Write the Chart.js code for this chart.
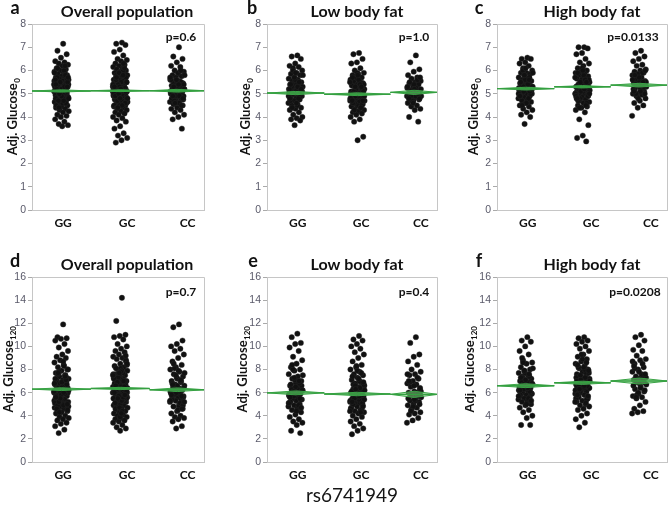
<!DOCTYPE html>
<html><head><meta charset="utf-8">
<script src="https://cdn.jsdelivr.net/npm/chart.js@4.4.0/dist/chart.umd.min.js"></script>
<style>
html,body{margin:0;padding:0;background:#fff;}
#wrap{position:relative;width:671px;height:512px;overflow:hidden;background:#fff;}
#wrap canvas{position:absolute;}
</style></head>
<body><div id="wrap"></div>
<script>
// ---------------- DATA ----------------
const categories = ['GG', 'GC', 'CC'];
const glu0Ticks = [0, 1, 2, 3, 4, 5, 6, 7, 8];
const glu120Ticks = [0, 2, 4, 6, 8, 10, 12, 14, 16];
const panelTitles = ['Overall population', 'Low body fat', 'High body fat', 'Overall population', 'Low body fat', 'High body fat'];
const panelLetters = ['a', 'b', 'c', 'd', 'e', 'f'];
const pValues = ['p=0.6', 'p=1.0', 'p=0.0133', 'p=0.7', 'p=0.4', 'p=0.0208'];
const snpName = 'rs6741949';

// group size shares (width of each genotype section)
const allShares = [0.34, 0.34, 0.32];
const lowShares = [0.335, 0.387, 0.278];
const highShares = [0.335, 0.33, 0.335];

// Adj. Glucose0 – overall
const glu0AllGG = [7.15,6.85,6.7,6.55,6.4,6.35,6.3,6.25,6.2,6.1,6.05,6.0,5.95,5.9,5.85,5.8,5.75,5.7,5.7,5.65,5.6,5.55,5.5,5.5,5.45,5.4,5.35,5.3,5.3,5.25,5.2,5.2,5.15,5.1,5.1,5.05,5.0,5.0,4.95,4.9,4.9,4.85,4.8,4.75,4.7,4.7,4.65,4.6,4.55,4.5,4.45,4.4,4.35,4.3,4.25,4.2,4.1,4.05,4.0,3.9,3.8,3.7,3.65,3.6,5.35,5.05,4.95,5.55,5.25,4.85,
  5.6,5.2,4.8,5.9,5.0,5.4,4.6,5.7,5.1,4.9,5.3,6.0,4.7,5.5,5.2,4.5,5.8,5.0,5.4,4.8,6.1,5.1,4.9,5.6,5.3,4.4,5.7,5.0,5.2,4.6,5.5,5.9,4.7,5.1,5.3,4.9,5.4,6.2,5.0,4.8];
const glu0AllGC = [7.2,7.15,7.1,6.9,6.8,6.65,6.5,6.45,6.4,6.3,6.25,6.2,6.15,6.1,6.05,6.0,5.95,5.9,5.85,5.8,5.8,5.75,5.7,5.65,5.6,5.6,5.55,5.5,5.5,5.45,5.4,5.4,5.35,5.3,5.3,5.25,5.2,5.2,5.15,5.15,5.1,5.1,5.05,5.0,5.0,4.95,4.95,4.9,4.85,4.85,4.8,4.75,4.7,4.7,4.65,4.6,4.55,4.5,4.5,4.45,4.4,4.35,4.3,4.25,4.2,4.15,4.1,4.0,3.95,3.85,3.8,3.6,3.5,3.3,3.2,3.1,3.0,2.9,5.25,5.45,4.9,5.05,5.65,4.6,5.35,
  5.3,4.9,5.6,5.1,4.7,5.8,5.0,5.4,4.5,6.0,5.2,4.8,5.5,5.1,4.6,5.9,5.3,5.0,4.4,5.7,5.2,4.9,6.2,5.4,4.8,5.1,5.6,4.6,5.3,5.0,5.8,4.7,5.5,5.2,4.9,6.1,5.0,5.4,4.5,5.7,5.1,4.8,5.3,6.3,4.4];
const glu0AllCC = [7.0,6.6,6.5,6.35,6.2,6.15,6.0,5.95,5.85,5.8,5.75,5.7,5.6,5.55,5.5,5.45,5.4,5.35,5.3,5.25,5.2,5.2,5.15,5.1,5.05,5.0,5.0,4.95,4.9,4.85,4.8,4.75,4.7,4.65,4.6,4.55,4.5,4.4,4.35,4.3,4.2,4.1,4.0,3.9,3.5,5.3,5.1,4.9,5.45,4.75,
  5.2,4.8,5.5,5.0,5.8,4.6,5.3,5.1,4.9,5.6,5.0,4.7,5.4,5.9,5.2,4.5,5.1,5.7,4.9,5.3,4.8,5.5,5.0,6.0,4.6,5.2,5.4,4.9,5.1,5.6];
const glu0AllMeans = [5.12, 5.13, 5.13];
const glu0AllCI = [0.05, 0.04, 0.06];

// Adj. Glucose0 – low body fat
const glu0LowGG = [6.65,6.6,6.5,6.3,6.2,6.15,6.1,6.0,5.9,5.85,5.8,5.7,5.65,5.6,5.55,5.5,5.45,5.4,5.35,5.3,5.3,5.25,5.2,5.15,5.1,5.05,5.0,4.95,4.9,4.85,4.8,4.75,4.7,4.6,4.55,4.5,4.4,4.35,4.3,4.2,4.1,4.0,3.95,3.9,3.85,3.65,5.2,4.95,5.4,5.05,
  5.1,4.7,5.5,5.0,5.8,4.5,5.3,4.9,5.6,5.2,4.8,6.0,5.1,4.6,5.4,5.0,5.7,4.9,5.3,4.4,5.2,5.9,4.8,5.5,5.0];
const glu0LowGC = [6.75,6.7,6.5,6.35,6.3,6.1,6.0,5.9,5.85,5.8,5.7,5.65,5.6,5.55,5.5,5.45,5.4,5.35,5.3,5.25,5.2,5.15,5.1,5.1,5.05,5.0,5.0,4.95,4.9,4.85,4.8,4.8,4.75,4.7,4.65,4.6,4.55,4.5,4.45,4.4,4.35,4.3,4.25,4.2,4.15,4.1,4.0,3.9,3.8,3.15,3.0,5.0,4.9,5.2,4.7,5.3,4.6,5.45,4.85,5.1,
  5.0,4.6,5.4,4.9,5.7,4.5,5.2,4.8,5.5,5.1,4.7,5.9,5.0,4.4,5.3,4.9,5.6,4.6,5.2,5.0,4.8,5.4,4.3,5.1,5.8,4.7,5.3,4.9,5.5,5.0];
const glu0LowCC = [6.65,6.35,6.05,5.95,5.8,5.7,5.65,5.55,5.5,5.45,5.4,5.3,5.25,5.2,5.15,5.1,5.05,5.0,5.0,4.95,4.9,4.85,4.8,4.75,4.7,4.6,4.5,4.45,4.35,4.3,4.0,3.8,5.1,4.9,5.25,
  5.1,4.8,5.4,5.0,5.6,4.7,5.2,4.9,5.5,5.0,4.6,5.3,5.1,4.9,5.7,5.2,4.8,5.0];
const glu0LowMeans = [5.03, 4.98, 5.06];
const glu0LowCI = [0.07, 0.06, 0.09];

// Adj. Glucose0 – high body fat
const glu0HighGG = [6.55,6.5,6.5,6.35,6.3,6.2,6.1,6.0,5.9,5.9,5.85,5.8,5.7,5.65,5.6,5.55,5.5,5.45,5.4,5.35,5.3,5.3,5.25,5.2,5.2,5.15,5.1,5.05,5.0,5.0,4.95,4.9,4.85,4.8,4.75,4.7,4.65,4.6,4.5,4.45,4.35,4.3,4.2,4.1,4.0,3.7,5.25,5.45,5.05,5.15,
  5.3,4.9,5.7,5.1,5.9,4.7,5.4,5.0,5.6,5.2,4.8,6.0,5.3,4.6,5.5,5.1,5.8,5.0,5.4,4.5,5.2,6.1,4.9,5.6,5.3];
const glu0HighGC = [7.0,7.0,6.95,6.75,6.7,6.5,6.35,6.3,6.2,6.1,6.0,5.95,5.9,5.85,5.8,5.75,5.7,5.65,5.6,5.55,5.5,5.45,5.4,5.4,5.35,5.3,5.3,5.25,5.2,5.2,5.15,5.1,5.05,5.0,5.0,4.95,4.9,4.85,4.8,4.75,4.7,4.65,4.6,4.5,4.45,4.4,4.3,4.2,3.9,3.65,3.2,3.1,2.95,5.35,5.15,5.5,5.25,4.95,5.6,5.05,
  5.3,4.8,5.6,5.1,5.9,4.6,5.4,5.0,5.7,5.2,4.9,6.1,5.3,4.5,5.5,5.0,5.8,4.7,5.4,5.2,4.9,5.6,4.4,5.3,6.0,4.8,5.5,5.1,5.7,5.2];
const glu0HighCC = [6.85,6.75,6.6,6.5,6.4,6.25,6.2,6.05,6.0,5.95,5.9,5.85,5.8,5.7,5.6,5.55,5.5,5.45,5.4,5.35,5.3,5.25,5.2,5.1,5.0,5.0,4.95,4.9,4.8,4.7,4.6,4.5,4.4,4.05,5.15,
  5.4,5.0,5.7,5.2,5.9,4.9,5.5,5.1,5.8,5.3,4.8,5.6,5.4,5.0,6.0,5.3,5.1,5.5];
const glu0HighMeans = [5.22, 5.30, 5.37];
const glu0HighCI = [0.06, 0.05, 0.08];

// Adj. Glucose120 – overall
const glu120AllGG = [11.9,10.8,10.7,10.65,10.5,10.2,9.9,9.6,9.3,9.1,9.0,8.8,8.6,8.4,8.2,8.0,7.9,7.7,7.5,7.4,7.2,7.1,7.0,6.9,6.8,6.7,6.6,6.5,6.4,6.3,6.3,6.2,6.1,6.0,5.9,5.8,5.7,5.6,5.5,5.4,5.3,5.2,5.1,5.0,4.9,4.8,4.7,4.6,4.5,4.4,4.3,4.2,4.0,3.9,3.8,3.7,3.6,3.4,3.3,3.1,2.8,2.5,6.0,6.5,5.8,7.3,6.8,5.3,4.9,7.6,
  6.2,5.4,7.0,5.9,7.8,4.8,6.6,5.6,7.3,6.0,5.1,8.3,6.4,4.5,6.9,5.7,7.5,5.3,6.1,8.7,4.9,6.7,5.8,7.2,6.3,5.2,8.0,6.5,4.6,7.1,5.5,6.8,6.0,7.7,5.0,6.4,5.6,7.4,4.3,6.2];
const glu120AllGC = [14.2,12.2,11.0,10.9,10.8,10.6,10.2,10.0,9.8,9.6,9.5,9.3,9.1,9.0,8.9,8.7,8.5,8.3,8.2,8.0,7.9,7.8,7.6,7.5,7.4,7.3,7.2,7.1,7.0,6.9,6.8,6.7,6.6,6.5,6.5,6.4,6.3,6.3,6.2,6.1,6.0,6.0,5.9,5.8,5.7,5.6,5.5,5.4,5.3,5.2,5.1,5.0,4.9,4.8,4.7,4.6,4.5,4.4,4.3,4.2,4.1,4.0,3.9,3.8,3.7,3.6,3.5,3.4,3.2,3.0,2.9,2.7,6.4,5.9,6.8,5.6,7.1,6.2,5.3,6.6,4.9,7.7,6.0,5.5,8.1,
  6.3,5.5,7.1,6.0,7.9,4.9,6.7,5.7,7.4,6.1,5.2,8.4,6.5,4.6,7.0,5.8,7.6,5.4,6.2,8.8,5.0,6.8,5.9,7.3,6.4,5.3,8.1,6.6,4.7,7.2,5.6,6.9,6.1,7.8,5.1,6.5,5.7,7.5,4.4,6.3,9.2,3.9,6.0,7.0,5.5,8.5,4.2,6.6,5.8,7.7];
const glu120AllCC = [11.9,11.65,10.5,10.2,10.0,9.8,9.6,9.3,9.0,8.7,8.4,8.2,8.0,7.8,7.6,7.4,7.2,7.0,6.9,6.7,6.6,6.4,6.3,6.2,6.1,6.0,5.9,5.8,5.7,5.6,5.5,5.4,5.3,5.2,5.0,4.8,4.6,4.4,4.2,4.0,3.9,3.8,3.7,3.5,3.1,2.9,6.1,5.9,6.5,5.6,
  6.2,5.4,7.0,5.9,7.7,4.8,6.5,5.6,7.3,6.0,5.1,8.1,6.4,4.5,6.8,5.7,7.5,5.3,6.1,8.5,4.9,6.6,5.8,7.1,6.3,5.2,7.9,6.7,4.6,6.0];
const glu120AllMeans = [6.30, 6.36, 6.25];
const glu120AllCI = [0.12, 0.10, 0.16];

// Adj. Glucose120 – low body fat
const glu120LowGG = [11.1,10.8,10.3,10.2,9.9,9.6,9.1,8.8,8.5,8.2,8.0,7.9,7.6,7.4,7.2,7.0,6.8,6.6,6.5,6.3,6.2,6.1,6.0,5.9,5.8,5.7,5.6,5.5,5.4,5.3,5.2,5.0,4.9,4.8,4.6,4.5,4.3,4.1,3.9,3.7,3.5,3.4,3.2,2.7,2.5,6.0,5.8,6.4,5.5,6.6,
  6.0,5.2,6.8,5.7,7.5,4.6,6.3,5.4,7.1,5.9,4.9,8.0,6.2,4.4,6.7,5.5,7.3,5.1,5.9,8.4,4.7,6.5,5.6,7.0,6.1];
const glu120LowGC = [10.9,10.6,10.5,10.2,10.0,9.8,9.5,9.3,9.0,8.7,8.4,8.2,8.0,7.8,7.6,7.5,7.3,7.1,6.9,6.8,6.6,6.5,6.3,6.2,6.1,6.0,5.9,5.8,5.7,5.6,5.5,5.4,5.3,5.2,5.1,5.0,4.9,4.8,4.6,4.5,4.4,4.3,4.2,4.0,3.9,3.7,3.5,3.3,3.1,2.9,2.7,2.4,5.9,5.6,6.2,5.4,6.7,5.1,6.0,4.7,
  5.9,5.1,6.7,5.6,7.4,4.5,6.2,5.3,7.0,5.8,4.8,7.9,6.1,4.3,6.6,5.4,7.2,5.0,5.8,8.3,4.6,6.4,5.5,6.9,6.0,5.2,7.7,6.3,4.4,5.7];
const glu120LowCC = [10.8,10.3,9.3,9.1,8.7,8.4,8.0,7.8,7.6,7.5,7.2,7.0,6.8,6.7,6.5,6.3,6.1,6.0,5.9,5.8,5.6,5.5,5.3,5.2,5.0,4.9,4.7,4.5,4.3,4.2,4.1,3.8,3.6,3.4,5.7,
  5.8,5.0,6.6,5.5,7.3,4.6,6.1,5.3,6.9,5.7,4.8,7.6,6.0,4.4,6.4,5.4,7.0,5.9];
const glu120LowMeans = [5.98, 5.88, 5.85];
const glu120LowCI = [0.17, 0.15, 0.27];

// Adj. Glucose120 – high body fat
const glu120HighGG = [10.8,10.5,10.4,10.0,9.6,9.3,8.8,8.6,8.5,8.2,8.0,7.9,7.7,7.5,7.4,7.2,7.1,7.0,6.9,6.8,6.7,6.6,6.5,6.4,6.3,6.2,6.1,6.0,5.9,5.8,5.7,5.6,5.5,5.4,5.3,5.2,5.0,4.9,4.7,4.5,4.3,4.0,3.8,3.2,3.2,6.5,6.2,6.8,7.3,5.9,
  6.6,5.8,7.4,6.3,8.1,5.2,6.9,6.0,7.7,6.5,5.5,8.6,6.8,5.0,7.3,6.1,7.9,5.7,6.4,9.0,5.3,7.1,6.2,7.6,6.7];
const glu120HighGC = [10.8,10.7,10.5,10.4,10.2,10.0,9.8,9.6,9.3,9.1,8.9,8.7,8.5,8.3,8.1,8.0,7.8,7.6,7.5,7.4,7.2,7.1,7.0,6.9,6.8,6.7,6.6,6.5,6.4,6.3,6.2,6.1,6.0,5.9,5.8,5.6,5.5,5.3,5.2,5.0,4.9,4.8,4.6,4.5,4.2,4.0,3.7,3.4,3.0,6.9,7.2,6.5,7.7,6.1,7.0,6.4,8.2,5.7,6.7,7.3,
  6.9,6.0,7.7,6.5,8.4,5.4,7.2,6.2,8.0,6.7,5.7,8.9,7.0,5.1,7.5,6.4,8.2,5.9,6.6,9.3,5.5,7.3,6.3,7.9,6.8,5.8,8.6,7.1,5.2,6.6];
const glu120HighCC = [11.0,10.8,10.5,10.1,9.7,9.6,9.2,8.9,8.8,8.5,8.2,8.0,7.8,7.6,7.4,7.3,7.2,7.1,7.0,6.9,6.7,6.5,6.3,6.1,5.9,5.7,5.6,5.5,5.2,4.9,4.6,4.4,4.3,4.2,7.0,
  7.0,6.2,7.8,6.6,8.5,5.8,7.3,6.4,8.1,6.9,6.0,8.7,7.2,5.6,7.6,6.8,8.3,7.1];
const glu120HighMeans = [6.60, 6.85, 7.00];
const glu120HighCI = [0.17, 0.14, 0.26];

// ---------------- LAYOUT ----------------
const AXW = 32;          // y-axis box width
const XAH = 24;          // x-axis box height
const JITTER = 0.043;    // half-width of strip jitter (x units)
const LABEL_POS = [0.18, 0.55, 0.90];

const panels = [
  {groups:[glu0AllGG,glu0AllGC,glu0AllCC], means:glu0AllMeans, ci:glu0AllCI, shares:allShares, ticks:glu0Ticks, sub:'0',
   left:32, right:207, top:24, bottom:210, cTop:0, cH:234, letter:[15,8], title:[127,12], p:[181,37], yTitleX:12},
  {groups:[glu0LowGG,glu0LowGC,glu0LowCC], means:glu0LowMeans, ci:glu0LowCI, shares:lowShares, ticks:glu0Ticks, sub:'0',
   left:267, right:440, top:24, bottom:210, cTop:0, cH:234, letter:[252,8], title:[357,12], p:[414,37], yTitleX:245},
  {groups:[glu0HighGG,glu0HighGC,glu0HighCC], means:glu0HighMeans, ci:glu0HighCI, shares:highShares, ticks:glu0Ticks, sub:'0',
   left:497, right:670, top:24, bottom:210, cTop:0, cH:234, letter:[479,8], title:[592,12], p:[633,37], yTitleX:473},
  {groups:[glu120AllGG,glu120AllGC,glu120AllCC], means:glu120AllMeans, ci:glu120AllCI, shares:allShares, ticks:glu120Ticks, sub:'120',
   left:32, right:207, top:277, bottom:462, cTop:250, cH:262, letter:[15,261], title:[127,265], p:[181,292], yTitleX:8},
  {groups:[glu120LowGG,glu120LowGC,glu120LowCC], means:glu120LowMeans, ci:glu120LowCI, shares:lowShares, ticks:glu120Ticks, sub:'120',
   left:267, right:440, top:277, bottom:462, cTop:250, cH:262, letter:[253,261], title:[357,265], p:[414,292], yTitleX:242, xlabel:[352,496]},
  {groups:[glu120HighGG,glu120HighGC,glu120HighCC], means:glu120HighMeans, ci:glu120HighCI, shares:highShares, ticks:glu120Ticks, sub:'120',
   left:497, right:670, top:277, bottom:462, cTop:250, cH:262, letter:[479,261], title:[592,265], p:[635,292], yTitleX:469}
];

const FONT = 'Lato, "Open Sans", "Liberation Sans", sans-serif';

const panelTextPlugin = {
  id: 'panelText',
  afterDraw(chart) {
    const o = chart.options.plugins.panelText;
    const ctx = chart.ctx, ca = chart.chartArea;
    const ox = o.cLeft, oy = o.cTop;
    ctx.save();
    ctx.strokeStyle = '#c6c6c6';
    ctx.lineWidth = 1;
    ctx.beginPath();
    ctx.moveTo(ca.left, Math.round(ca.top) + 0.5);
    ctx.lineTo(Math.round(ca.right) - 0.5, Math.round(ca.top) + 0.5);
    ctx.lineTo(Math.round(ca.right) - 0.5, ca.bottom);
    ctx.stroke();
    ctx.fillStyle = '#111';
    ctx.textBaseline = 'middle';
    ctx.textAlign = 'center';
    ctx.font = 'bold 18px ' + FONT;
    ctx.fillText(o.letter, o.letterPos[0] - ox, o.letterPos[1] - oy);
    ctx.font = 'bold 16px ' + FONT;
    ctx.fillText(o.title, o.titlePos[0] - ox, o.titlePos[1] - oy);
    ctx.font = 'bold 12px ' + FONT;
    ctx.fillText(o.p, o.pPos[0] - ox, o.pPos[1] - oy);
    const main = 'Adj. Glucose';
    ctx.font = 'bold 13px ' + FONT;
    const w1 = ctx.measureText(main).width;
    ctx.font = 'bold 8px ' + FONT;
    const w2 = ctx.measureText(o.sub).width;
    const cy = (ca.top + ca.bottom) / 2;
    ctx.translate(o.yTitleX - ox, cy);
    ctx.rotate(-Math.PI / 2);
    ctx.textAlign = 'left';
    ctx.textBaseline = 'alphabetic';
    ctx.font = 'bold 13px ' + FONT;
    const start = -(w1 + w2) / 2;
    ctx.fillText(main, start, 4.5);
    ctx.font = 'bold 8px ' + FONT;
    ctx.fillText(o.sub, start + w1 + 0.5, 7.5);
    ctx.setTransform(1, 0, 0, 1, 0, 0);
    if (o.xlabel) {
      ctx.textAlign = 'center';
      ctx.textBaseline = 'middle';
      ctx.font = '19px ' + FONT;
      ctx.fillStyle = '#151515';
      ctx.fillText(snpName, o.xlabel[0] - ox, o.xlabel[1] - oy);
    }
    ctx.restore();
  }
};

function jitterPoints(values, center) {
  return values.map((v, i) => ({ x: center + ((((i + 1) * 0.6180339887) % 1) - 0.5) * 2 * JITTER, y: v }));
}

const wrap = document.getElementById('wrap');
panels.forEach((pn, idx) => {
  const cLeft = pn.left - AXW;
  const cW = pn.right - cLeft + 1;
  const canvas = document.createElement('canvas');
  canvas.width = cW; canvas.height = pn.cH;
  canvas.style.left = cLeft + 'px'; canvas.style.top = pn.cTop + 'px';
  canvas.style.width = cW + 'px'; canvas.style.height = pn.cH + 'px';
  wrap.appendChild(canvas);

  const edges = [0];
  pn.shares.forEach((s, i) => edges.push(edges[i] + s));
  const datasets = [];
  pn.groups.forEach((vals, g) => {
    const x0 = edges[g], x1 = Math.min(edges[g + 1], 1), xc = (x0 + x1) / 2;
    const m = pn.means[g], c = pn.ci[g];
    datasets.push({
      type: 'line', order: 1,
      data: [{x:x0,y:m},{x:xc,y:m+c},{x:x1,y:m},{x:xc,y:m-c},{x:x0,y:m}],
      borderColor: '#3aa346', borderWidth: 1, backgroundColor: 'rgba(120,205,120,0.55)',
      fill: 'shape', pointRadius: 0, tension: 0
    });
    datasets.push({
      type: 'line', order: 0,
      data: [{x:x0,y:m},{x:x1,y:m}],
      borderColor: '#34a040', borderWidth: 1.4, fill: false, pointRadius: 0
    });
    datasets.push({
      type: 'scatter', order: 2,
      data: jitterPoints(vals, xc),
      pointRadius: 2.7, pointHoverRadius: 2.7,
      backgroundColor: '#111', borderColor: '#2a2a2a', borderWidth: 0.4
    });
  });

  new Chart(canvas, {
    type: 'scatter',
    data: { datasets },
    plugins: [panelTextPlugin],
    options: {
      responsive: false, animation: false, devicePixelRatio: 1,
      layout: { padding: { left: 0, right: 1, top: pn.top - pn.cTop, bottom: pn.cH - (pn.bottom - pn.cTop) - XAH } },
      plugins: {
        legend: { display: false }, tooltip: { enabled: false },
        panelText: { cLeft, cTop: pn.cTop, letter: panelLetters[idx], title: panelTitles[idx], p: pValues[idx],
          letterPos: pn.letter, titlePos: pn.title, pPos: pn.p, yTitleX: pn.yTitleX, sub: pn.sub, xlabel: pn.xlabel }
      },
      scales: {
        x: {
          type: 'linear', min: 0, max: 1,
          afterBuildTicks: s => { s.ticks = LABEL_POS.map(v => ({ value: v })); },
          afterFit: s => { s.height = XAH; },
          grid: { display: false, drawTicks: false },
          border: { display: true, color: '#c6c6c6', width: 1 },
          ticks: { padding: 6, color: '#111', font: { family: FONT, weight: 'bold', size: 12 },
            callback: (v, i) => categories[i], maxRotation: 0, autoSkip: false }
        },
        y: {
          type: 'linear', min: 0, max: pn.ticks[pn.ticks.length - 1],
          afterBuildTicks: s => { s.ticks = pn.ticks.map(v => ({ value: v })); },
          afterFit: s => { s.width = AXW; },
          grid: { display: true, drawOnChartArea: false, drawTicks: true, tickLength: 4, color: '#aaaaaa' },
          border: { display: true, color: '#c6c6c6', width: 1 },
          ticks: { padding: 2, color: '#5a5a6a', font: { family: '"Liberation Sans", Arial, sans-serif', size: 10.5 } }
        }
      }
    }
  });
});
</script>
</body></html>
